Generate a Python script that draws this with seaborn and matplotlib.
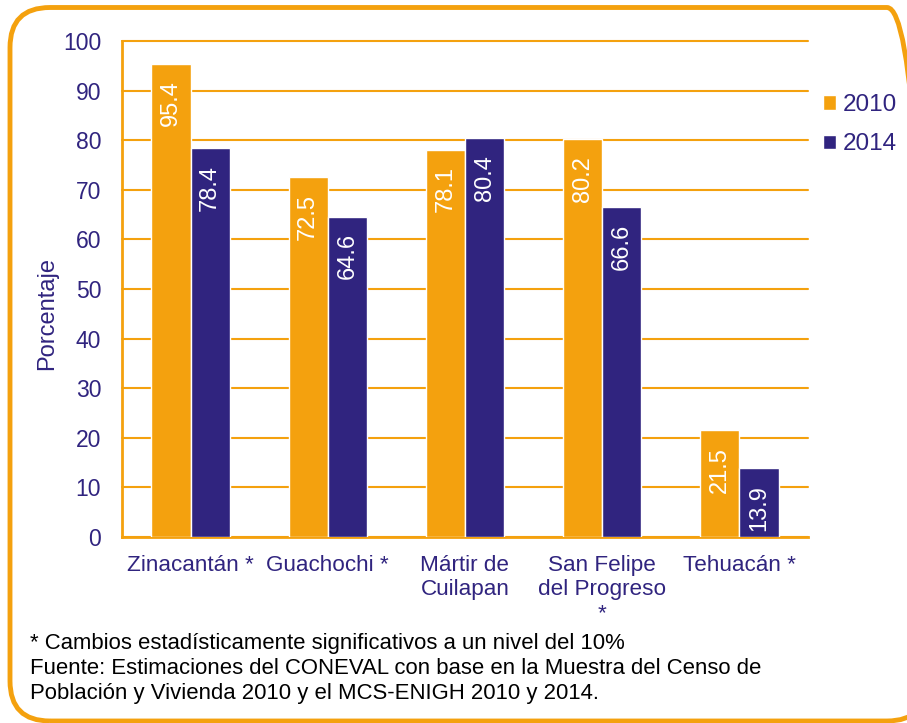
import matplotlib
matplotlib.use("Agg")
import matplotlib.pyplot as plt
from matplotlib.patches import FancyBboxPatch, Patch
import seaborn as sns
import pandas as pd

categories = ["Zinacantán *", "Guachochi *", "Mártir de\nCuilapan", "San Felipe\ndel Progreso\n*", "Tehuacán *"]
years = ["2010", "2014"]
values_2010 = [95.4, 72.5, 78.1, 80.2, 21.5]
values_2014 = [78.4, 64.6, 80.4, 66.6, 13.9]
yticks = [0, 10, 20, 30, 40, 50, 60, 70, 80, 90, 100]

ORANGE = "#F4A10E"
PURPLE = "#30247F"

df = pd.DataFrame({
    "cat": categories * 2,
    "year": [years[0]] * 5 + [years[1]] * 5,
    "val": values_2010 + values_2014,
})

sns.set_theme(style="white")
plt.rcParams["font.family"] = ["Liberation Sans", "DejaVu Sans"]

fig = plt.figure(figsize=(9.07, 7.23), dpi=100)
fig.patch.set_facecolor("white")
ax = fig.add_axes([122/907, 1-537/723, (808-122)/907, (537-41)/723])

sns.barplot(data=df, x="cat", y="val", hue="year", palette=[ORANGE, PURPLE],
            width=0.57, saturation=1, ax=ax, legend=False, zorder=3)

ax.set_ylim(0, 100)
ax.set_yticks(yticks)
ax.set_yticklabels([str(t) for t in yticks], color=PURPLE, fontsize=16.5)
ax.tick_params(axis="y", length=0, pad=15)
ax.tick_params(axis="x", length=0, pad=13, labelsize=16.2, labelcolor=PURPLE)
ax.set_xlabel("")
ax.set_ylabel("Porcentaje", color=PURPLE, fontsize=17)
ax.yaxis.set_label_coords((58-122)/686, (537-314)/496)
ax.grid(axis="y", color=ORANGE, linewidth=1.5, zorder=0)
ax.set_axisbelow(True)
for gl in ax.get_ygridlines():
    gl.set_clip_on(False)
for s in ["top", "right"]:
    ax.spines[s].set_visible(False)
for s in ["left", "bottom"]:
    ax.spines[s].set_color(ORANGE)
    ax.spines[s].set_linewidth(2)
for lbl in ax.get_xticklabels():
    lbl.set_linespacing(1.18)
    lbl.set_verticalalignment("top")

for cont in ax.containers:
    for bar in cont:
        h = bar.get_height()
        ax.annotate(f"{h:.1f}", (bar.get_x() + bar.get_width()/2, h),
                    xytext=(0, -12), textcoords="offset points",
                    ha="center", va="top", rotation=90, color="white",
                    fontsize=17, zorder=5)

handles = [Patch(facecolor=ORANGE, label="2010"), Patch(facecolor=PURPLE, label="2014")]
leg = fig.legend(handles=handles, loc="upper left", bbox_to_anchor=(823/907, 1-94/723),
                 frameon=False, fontsize=17.5, handlelength=0.55, handleheight=0.55,
                 handletextpad=0.25, labelspacing=0.72, borderaxespad=0, borderpad=0)
for t in leg.get_texts():
    t.set_color(PURPLE)

notes = ["* Cambios estadísticamente significativos a un nivel del 10%",
         "Fuente: Estimaciones del CONEVAL con base en la Muestra del Censo de",
         "Población y Vivienda 2010 y el MCS-ENIGH 2010 y 2014."]
for i, n in enumerate(notes):
    fig.text(30/907, 1-(644 + i*24.5)/723, n, fontsize=15.9, color="black", va="center", ha="left")

box = FancyBboxPatch((0.10, 0.02), 9.17, 7.135,
                     boxstyle="round,pad=0,rounding_size=0.40",
                     transform=fig.dpi_scale_trans, facecolor="none",
                     edgecolor=ORANGE, linewidth=3.5, clip_on=False)
fig.patches.append(box)

fig.savefig("out.png", dpi=100, facecolor="white")
